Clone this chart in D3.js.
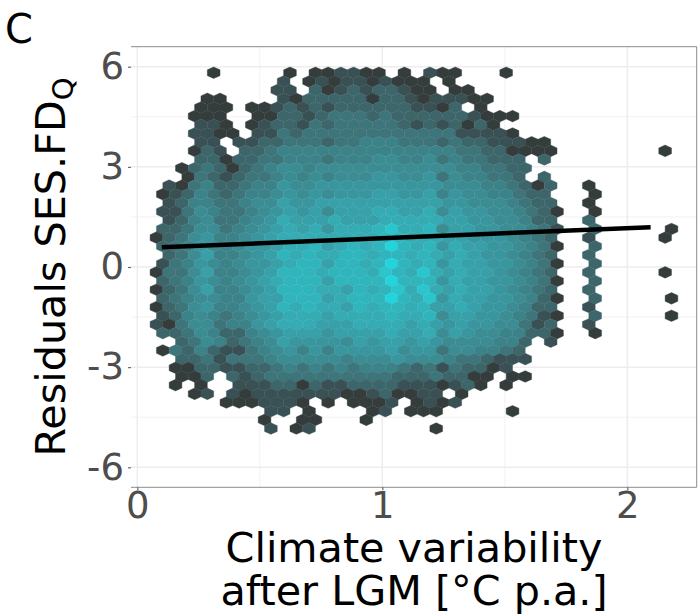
<!DOCTYPE html>
<html>
<head>
<meta charset="utf-8">
<script src="https://cdn.jsdelivr.net/npm/d3@7"></script>
<style>
  html, body { margin: 0; padding: 0; background: #fff; }
  text { font-family: "DejaVu Sans", sans-serif; }
</style>
</head>
<body>
<div id="wrapper"></div>
<script>
const xTicks = [0, 1, 2]
const xMinorTicks = [0.5, 1.5]
const yTicks = [-6, -3, 0, 3, 6]
const yMinorTicks = [-4.5, -1.5, 1.5, 4.5]

const xTitleLines = ["Climate variability", "after LGM [°C p.a.]"]
const panelLabel = "C"

// fitted line
const lineX = [0.1, 2.095]
const lineY = [0.59, 1.19]

// hex grid in data units: columns step in half bins, rows go down from hexTopY
const hexOriginX = 0.0522
const hexStepX = 0.0519
const hexTopY = 5.82
const hexStepY = 0.26

// first half-column of every row
const rowStart = [10, 21, 20, 9, 8, 7, 8, 7, 8, 7, 8, 5, 6, 3, 2, 3, 2, 3, 2, 1, 2, 3, 2, 1, 2, 1, 2, 1, 2, 1, 2, 5, 2, 5, 4, 5, 4, 7, 12, 19, 18, 19]

// shade level of each bin, 0 = empty, 1 dark .. 12 brightest
const rowLevels = [
  [1,0,0,0,0,0,1,0,1,1,2,2,1,1,0,1,0,2,1,1,0,0,0,1],
  [2,0,1,2,1,2,2,1,2,1,1,1,0,1],
  [2,2,0,3,1,2,3,2,3,3,2,1,1,0,1,1],
  [1,1,0,0,0,0,2,1,3,3,3,3,3,1,3,3,2,1,2,2,2,1,1],
  [1,1,1,0,1,1,2,3,2,3,2,3,3,3,3,3,3,2,2,1,3,0,1],
  [1,1,1,0,0,1,1,3,3,2,3,4,4,4,3,4,3,3,3,3,3,3,2,1,1,1],
  [2,2,1,0,1,2,3,3,2,4,3,4,4,4,4,4,3,2,3,2,3,1,3,1],
  [2,2,1,1,0,2,2,4,3,4,4,4,4,4,4,4,4,4,4,4,4,2,2,2,2,1],
  [2,2,0,2,2,3,3,4,4,4,3,4,4,5,5,5,4,4,4,3,4,3,3,2,2,2,1,1],
  [1,3,2,0,3,3,4,5,5,5,5,5,5,5,5,5,5,5,5,5,5,4,4,3,3,1,1,1,1,0,0,0,0,0,0,0,0,1],
  [3,3,1,3,3,4,4,5,5,5,4,5,5,5,6,6,5,5,6,4,5,4,4,3,3,3,0,3],
  [1,3,4,3,1,3,4,5,6,6,5,6,6,6,6,6,6,6,6,6,6,6,5,5,4,4,3,3],
  [1,4,3,2,3,4,4,5,6,5,6,5,6,6,6,7,7,6,6,7,4,6,5,5,4,4,3,0,3],
  [2,1,4,5,3,3,4,5,5,7,6,6,7,7,7,7,7,7,7,7,7,7,6,6,6,5,5,4,3,1,3,0,0,1],
  [1,2,3,5,4,3,4,5,5,6,7,6,7,6,7,7,7,8,8,7,7,8,5,7,6,6,5,5,4,3,3,0,0,0,1],
  [2,3,5,5,4,4,5,6,6,8,7,7,8,8,8,8,8,8,8,8,8,8,7,7,6,6,6,5,4,3,3,0,0,1],
  [2,2,4,6,5,4,4,5,6,7,8,7,8,6,8,8,8,9,9,8,8,9,6,8,7,7,6,6,5,4,3,1,0,0,1],
  [2,3,5,6,4,4,5,6,7,9,8,8,8,9,8,8,8,9,9,9,9,9,8,8,7,7,6,6,5,3,3,0,0,3],
  [3,3,4,6,6,4,5,6,7,8,9,8,9,7,9,9,9,10,11,9,9,10,6,8,8,7,7,6,6,5,4,2,0,0,3,0,0,0,0,0,1],
  [1,3,4,6,7,5,5,6,7,8,9,9,9,9,9,9,9,9,10,10,9,9,9,8,8,7,7,7,6,5,4,3,0,0,2,0,0,0,0,0,1],
  [3,4,5,7,6,5,6,7,7,8,9,9,10,8,9,10,9,10,12,10,9,10,7,9,8,8,7,7,6,5,4,1,0,0,3],
  [3,4,6,8,5,5,6,7,8,10,9,10,9,9,10,10,9,10,10,9,10,9,8,9,8,7,7,6,5,4,3,0,0,3],
  [2,4,5,7,6,5,6,7,7,8,9,10,10,8,10,10,9,10,12,10,9,10,7,9,8,8,7,7,6,5,4,1,0,0,3],
  [1,4,4,6,8,5,5,6,7,8,10,10,10,9,10,10,10,9,11,10,9,11,9,8,9,8,8,7,6,5,4,3,0,0,3,0,0,0,0,0,1],
  [3,4,5,7,6,5,6,7,8,9,10,10,10,8,10,10,10,10,12,10,10,10,7,9,8,8,7,7,6,5,4,1,0,0,3],
  [1,3,4,6,8,5,5,6,7,8,10,10,10,9,9,8,10,9,10,11,9,11,9,8,9,8,8,7,6,5,4,3,0,0,3],
  [3,4,5,6,6,5,5,7,8,8,10,10,10,8,9,10,10,10,12,10,9,11,7,9,8,8,7,7,6,5,3,1,0,0,3,0,0,0,0,0,1],
  [1,3,4,6,7,5,5,6,7,8,10,9,10,9,9,8,10,9,10,10,9,10,8,8,9,8,7,7,6,5,3,3,0,0,2],
  [2,3,5,6,5,4,5,6,7,8,9,9,9,8,9,9,9,9,10,9,9,10,6,8,8,7,7,6,5,4,2,1,0,0,3,0,0,0,0,0,1],
  [2,1,4,6,6,4,5,5,7,8,9,9,9,8,8,8,9,9,9,9,8,9,8,7,8,7,7,6,6,4,2,3,0,0,2],
  [3,3,4,6,5,3,3,5,6,7,8,8,8,7,8,8,8,8,9,8,8,9,6,8,7,6,6,5,5,3,3,1,0,0,1],
  [3,4,6,5,3,4,5,6,8,7,7,7,7,6,8,7,8,8,7,8,7,6,6,6,6,5,5,3,0,2],
  [1,4,3,5,3,2,2,4,5,6,7,5,7,5,7,7,7,7,8,6,7,7,4,6,6,5,5,4,3],
  [3,3,4,2,4,4,4,5,6,6,6,6,6,5,6,6,6,7,6,6,6,5,4,4,3,2,2,2],
  [1,1,3,3,2,2,3,3,4,5,4,5,4,5,4,5,5,5,4,3,4,2,4,3,3,1,2],
  [1,1,3,0,3,2,3,4,4,4,4,4,4,4,4,4,4,3,3,3,4,3,3,1,1,0,1,1],
  [1,0,1,0,0,2,2,2,3,3,1,3,2,2,3,3,3,3,2,2,2,1,2,3,1,0,1],
  [1,2,0,2,1,2,2,2,2,2,2,2,1,1,2,3,1,1,2,2,0,1],
  [1,1,1,2,2,2,1,0,1,0,1,1,1,2,0,1,2,1,2],
  [2,2,0,1,0,0,0,0,1,2,0,1,1,1,0,0,0,0,0,1],
  [1,0,0,1,1,0,0,0,1],
  [2,0,1,2,0,0,0,0,0,0,0,0,0,1],
]

const dimensions = {
  width: 699,
  height: 615,
  margin: { top: 46.7, right: 2.3, bottom: 127.7, left: 131 },
}
dimensions.boundedWidth = dimensions.width - dimensions.margin.left - dimensions.margin.right
dimensions.boundedHeight = dimensions.height - dimensions.margin.top - dimensions.margin.bottom

const wrapper = d3.select("#wrapper")
  .append("svg")
  .attr("width", dimensions.width)
  .attr("height", dimensions.height)
  .style("display", "block")

const bounds = wrapper.append("g")
  .attr("transform", `translate(${dimensions.margin.left},${dimensions.margin.top})`)

// 245 px per unit and 33.33 px per unit, measured on the gridlines
const xScale = d3.scaleLinear()
  .domain([-0.0257, 2.283])
  .range([0, dimensions.boundedWidth])

const yScale = d3.scaleLinear()
  .domain([6.6, -6.6])
  .range([0, dimensions.boundedHeight])

const colorScale = d3.scaleLinear()
  .domain([1, 3, 5, 8, 10, 12])
  .range(["#343c3c", "#3d666b", "#3c8389", "#38a0a8", "#31b5bd", "#24d4dc"])

// grid
const grid = bounds.append("g")
grid.selectAll(".minor-x").data(xMinorTicks).join("line")
  .attr("x1", d => xScale(d)).attr("x2", d => xScale(d))
  .attr("y1", 0).attr("y2", dimensions.boundedHeight)
  .attr("stroke", "#f2f2f2").attr("stroke-width", 1)
grid.selectAll(".minor-y").data(yMinorTicks).join("line")
  .attr("x1", 0).attr("x2", dimensions.boundedWidth)
  .attr("y1", d => yScale(d)).attr("y2", d => yScale(d))
  .attr("stroke", "#f2f2f2").attr("stroke-width", 1)
grid.selectAll(".major-x").data(xTicks).join("line")
  .attr("x1", d => xScale(d)).attr("x2", d => xScale(d))
  .attr("y1", 0).attr("y2", dimensions.boundedHeight)
  .attr("stroke", "#ededed").attr("stroke-width", 1.5)
grid.selectAll(".major-y").data(yTicks).join("line")
  .attr("x1", 0).attr("x2", dimensions.boundedWidth)
  .attr("y1", d => yScale(d)).attr("y2", d => yScale(d))
  .attr("stroke", "#ededed").attr("stroke-width", 1.5)

// hexagons
const hexBins = rowLevels.flatMap((levels, row) =>
  levels.map((level, i) => ({
    x: hexOriginX + (rowStart[row] + 2 * i) * hexStepX / 2,
    y: hexTopY - row * hexStepY,
    level,
  })).filter(d => d.level > 0)
)

const halfWidth = (xScale(hexStepX) - xScale(0)) / 2
const rowHeight = yScale(0) - yScale(hexStepY)
const hexPath = d3.line()([
  [0, -rowHeight * 2 / 3],
  [halfWidth, -rowHeight / 3],
  [halfWidth, rowHeight / 3],
  [0, rowHeight * 2 / 3],
  [-halfWidth, rowHeight / 3],
  [-halfWidth, -rowHeight / 3],
]) + "Z"

bounds.append("g").selectAll("path").data(hexBins).join("path")
  .attr("d", hexPath)
  .attr("transform", d => `translate(${xScale(d.x)},${yScale(d.y)})`)
  .attr("fill", d => colorScale(d.level))
  .attr("stroke", d => colorScale(d.level))
  .attr("stroke-width", 0.4)

// fitted line
bounds.append("path")
  .attr("d", d3.line().x(d => xScale(d)).y((d, i) => yScale(lineY[i]))(lineX))
  .attr("fill", "none")
  .attr("stroke", "#000")
  .attr("stroke-width", 4.5)

// panel border, the picture has no left edge
bounds.append("path")
  .attr("d", d3.line()([
    [0, 0],
    [dimensions.boundedWidth, 0],
    [dimensions.boundedWidth, dimensions.boundedHeight],
    [0, dimensions.boundedHeight],
  ]))
  .attr("fill", "none")
  .attr("stroke", "#8c8c8c")
  .attr("stroke-width", 1)

// axes
const xAxis = bounds.append("g")
  .attr("transform", `translate(0,${dimensions.boundedHeight})`)
  .call(d3.axisBottom(xScale).tickValues(xTicks).tickFormat(String).tickSize(3).tickPadding(1))
const yAxis = bounds.append("g")
  .call(d3.axisLeft(yScale).tickValues(yTicks).tickFormat(String).tickSize(3).tickPadding(4))

for (const axis of [xAxis, yAxis]) {
  axis.select(".domain").remove()
  axis.selectAll(".tick line").attr("stroke", "#666").attr("stroke-width", 1.2)
  axis.selectAll(".tick text")
    .attr("fill", "#4d4d4d")
    .style("font-size", "37px")
    .style("font-family", '"DejaVu Sans", sans-serif')
}

// titles
wrapper.append("text")
  .attr("y", 562)
  .style("text-anchor", "middle")
  .style("font-size", "41.3px")
  .attr("fill", "#000")
  .selectAll("tspan").data(xTitleLines).join("tspan")
  .attr("x", 414)
  .attr("dy", (d, i) => i * 43)
  .text(d => d)

const yTitle = wrapper.append("text")
  .attr("transform", "translate(65,267) rotate(-90)")
  .style("text-anchor", "middle")
  .style("font-size", "41.3px")
  .attr("fill", "#000")
yTitle.append("tspan").text("Residuals SES.FD")
yTitle.append("tspan").text("Q").attr("dy", 8).style("font-size", "29px")

wrapper.append("text")
  .attr("x", 5)
  .attr("y", 42.5)
  .style("font-size", "40px")
  .attr("fill", "#000")
  .text(panelLabel)
</script>
</body>
</html>
